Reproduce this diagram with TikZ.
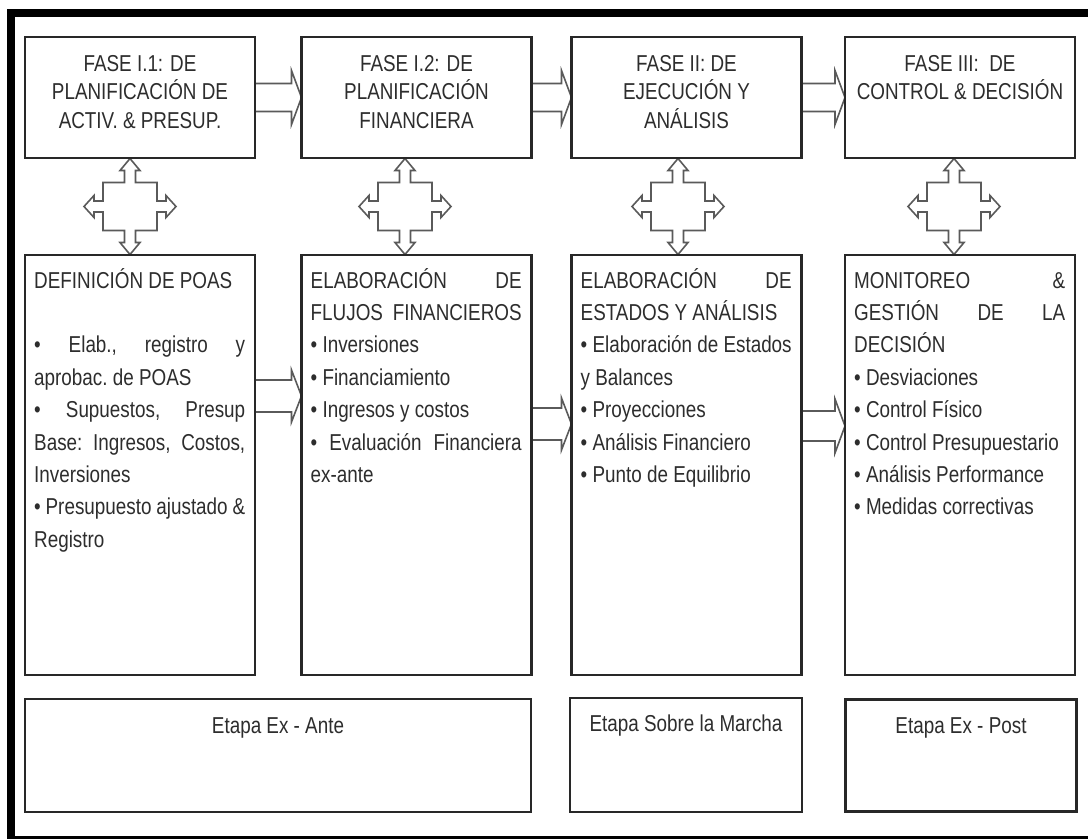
\documentclass[tikz,border=0pt]{standalone}
\usepackage{fontspec}
\setmainfont{Liberation Sans}[FakeStretch=0.82]
\usetikzlibrary{calc}

\definecolor{ink}{RGB}{45,45,45}
\definecolor{rule}{RGB}{40,40,40}
\definecolor{arrowgray}{RGB}{90,90,90}

% width of the text column inside the phase boxes
\newlength\jw
\setlength\jw{211pt}
\newcommand\jline[1]{\makebox[\jw][s]{#1}}
\newcommand\bodyblock[1]{\parbox[t]{\jw}{\raggedright\frenchspacing #1}}
\newcommand\titleblock[1]{\parbox[t]{225pt}{\centering #1}}

\pgfdeclarelayer{paper}
\pgfdeclarelayer{under}
\pgfsetlayers{paper,under,main}

% horizontal block arrow: start point, end point (tip), shaft half width, head half width
\newcommand\blockarrow[4]{%
  \draw[arrowline] let \p1=(#1), \p2=(#2) in
    (\x1,\y1+#3pt) -- (\x2-10pt,\y1+#3pt) -- (\x2-10pt,\y1+#4pt) -- (\x2,\y1)
    -- (\x2-10pt,\y1-#4pt) -- (\x2-10pt,\y1-#3pt) -- (\x1,\y1-#3pt) -- cycle;}

\begin{document}
\begin{tikzpicture}[x=1pt,y=-1pt,
  box/.style={draw=rule, line width=2.8pt, fill=white, inner sep=0pt, outer sep=0pt,
    anchor=north west, minimum width=230pt},
  titletext/.style={inner sep=0pt, anchor=base, text=ink, font=\fontsize{23}{28.5}\selectfont},
  bodytext/.style={inner sep=0pt, anchor=base west, text=ink, font=\fontsize{23}{32.4}\selectfont},
  stagetext/.style={inner sep=0pt, anchor=base, text=ink, font=\fontsize{23}{28}\selectfont},
  arrowline/.style={draw=arrowgray, line width=1.6pt, fill=white, line join=miter},
  quad/.pic={
    \path[arrowline] (0,-48) -- (10,-36) -- (5.5,-36) -- (5.5,-24) -- (27,-24) -- (27,-5.5)
      -- (36,-5.5) -- (36,-11) -- (46,0) -- (36,11) -- (36,5.5) -- (27,5.5) -- (27,24)
      -- (5.5,24) -- (5.5,36) -- (10,36) -- (0,48) -- (-10,36) -- (-5.5,36) -- (-5.5,24)
      -- (-27,24) -- (-27,5.5) -- (-36,5.5) -- (-36,11) -- (-46,0) -- (-36,-11) -- (-36,-5.5)
      -- (-27,-5.5) -- (-27,-24) -- (-5.5,-24) -- (-5.5,-36) -- (-10,-36) -- cycle;
  }
]
\useasboundingbox (0,0) rectangle (1088,839);
\begin{pgfonlayer}{paper}
  \fill[white] (0,0) rectangle (1088,839);
\end{pgfonlayer}

% outer frame
\fill[black] (7,9) rectangle (1088,17);
\fill[black] (7,9) rectangle (15,839);
\fill[black] (7,836) rectangle (1088,839);

% phase boxes
\node[box, minimum height=121pt] (t1) at (25,37) {};
\node[box, minimum height=121pt] (t2) at (301.5,37) {};
\node[box, minimum height=121pt] (t3) at (571.5,37) {};
\node[box, minimum height=121pt] (t4) at (845,37) {};

% activity boxes
\node[box, minimum height=420pt] (m1) at (25,255) {};
\node[box, minimum height=420pt] (m2) at (301.5,255) {};
\node[box, minimum height=420pt] (m3) at (571.5,255) {};
\node[box, minimum height=420pt] (m4) at (845,255) {};

% stage boxes
\node[box, minimum width=506pt, minimum height=113pt] (b1) at (25,699) {};
\node[box, minimum width=232pt, minimum height=114pt] (b3) at (570,698) {};
\node[box, minimum width=231pt, minimum height=112pt] (b4) at (845.5,699.5) {};

% titles
\node[titletext] (t1x) at (t1.center |- 0,71) {\titleblock{FASE I.1: DE\\PLANIFICACIÓN DE\\ACTIV. \& PRESUP.}};
\node[titletext] (t2x) at (t2.center |- 0,71) {\titleblock{FASE I.2: DE\\PLANIFICACIÓN\\FINANCIERA}};
\node[titletext] (t3x) at (t3.center |- 0,71) {\titleblock{FASE II: DE\\EJECUCIÓN Y\\ANÁLISIS}};
\node[titletext] (t4x) at (t4.center |- 0,71) {\titleblock{FASE III:\ \ DE\\CONTROL \& DECISIÓN}};

% activity lists
\node[bodytext] (m1x) at ($(m1.north west)+(9,33)$) {\bodyblock{%
  DEFINICIÓN DE POAS\\
  \mbox{}\\
  \jline{• Elab., registro y}\\
  aprobac. de POAS\\
  \jline{• Supuestos, Presup}\\
  \jline{Base: Ingresos, Costos,}\\
  Inversiones\\
  \jline{• Presupuesto ajustado \&}\\
  Registro}};
\node[bodytext] (m2x) at ($(m2.north west)+(9,33)$) {\bodyblock{%
  \jline{ELABORACIÓN DE}\\
  \jline{FLUJOS FINANCIEROS}\\
  • Inversiones\\
  • Financiamiento\\
  • Ingresos y costos\\
  \jline{• Evaluación Financiera}\\
  ex-ante}};
\node[bodytext] (m3x) at ($(m3.north west)+(9,33)$) {\bodyblock{%
  \jline{ELABORACIÓN DE}\\
  ESTADOS Y ANÁLISIS\\
  \jline{• Elaboración de Estados}\\
  y Balances\\
  • Proyecciones\\
  • Análisis Financiero\\
  • Punto de Equilibrio}};
\node[bodytext] (m4x) at ($(m4.north west)+(9,33)$) {\bodyblock{%
  \jline{MONITOREO \&}\\
  \jline{GESTIÓN DE LA}\\
  DECISIÓN\\
  • Desviaciones\\
  • Control Físico\\
  • Control Presupuestario\\
  • Análisis Performance\\
  • Medidas correctivas}};

% stage labels
\node[stagetext] (b1x) at (b1.center |- 0,733) {Etapa Ex - Ante};
\node[stagetext] (b3x) at (b3.center |- 0,731) {Etapa Sobre la Marcha};
\node[stagetext] (b4x) at (b4.center |- 0,733) {Etapa Ex - Post};

% connectors, drawn beneath the boxes
\begin{pgfonlayer}{under}
  \blockarrow{t1.east}{t2.west}{14}{27}
  \blockarrow{t2.east}{t3.west}{14}{27}
  \blockarrow{t3.east}{t4.west}{14}{27}

  \blockarrow{m1.east |- 0,396}{m2.west |- 0,396}{16}{26}
  \blockarrow{m2.east |- 0,424}{m3.west |- 0,424}{16}{26}
  \blockarrow{m3.east |- 0,426}{m4.west |- 0,426}{15}{27}

  \coordinate (q1) at ($(t1.south)!0.5!(m1.north)+(-10,0)$);
  \coordinate (q2) at ($(t2.south)!0.5!(m2.north)+(-11.5,0)$);
  \coordinate (q3) at ($(t3.south)!0.5!(m3.north)+(-8.5,0)$);
  \coordinate (q4) at ($(t4.south)!0.5!(m4.north)+(-6,0)$);
  \pic at (q1) {quad};
  \pic at (q2) {quad};
  \pic at (q3) {quad};
  \pic at (q4) {quad};
\end{pgfonlayer}
\end{tikzpicture}
\end{document}
